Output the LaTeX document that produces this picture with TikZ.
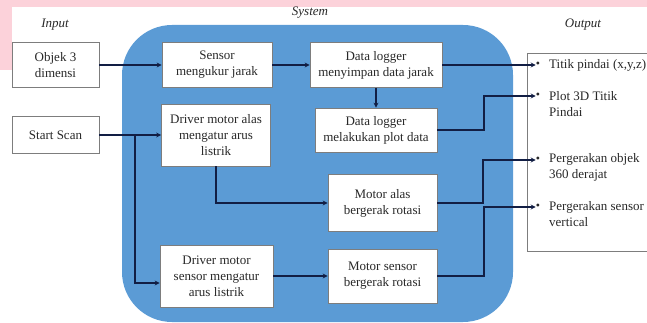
\documentclass[tikz,border=0pt]{standalone}
\usepackage{fontspec}
\setmainfont{Liberation Serif}
\usetikzlibrary{arrows.meta}
\definecolor{sysblue}{RGB}{91,155,213}
\definecolor{wirecol}{RGB}{18,30,68}
\definecolor{pinkband}{RGB}{252,210,218}
\definecolor{boxline}{RGB}{125,125,125}
\definecolor{txt}{RGB}{40,40,40}
\tikzset{
  blk/.style={rectangle,draw=boxline,fill=white,line width=.7pt,align=center,inner sep=1pt,text=txt,font=\fontsize{13}{16}\selectfont},
  sysbox/.style={rectangle,fill=sysblue,rounded corners=50pt,inner sep=0pt},
  outbox/.style={rectangle,draw=boxline,fill=white,line width=.7pt,inner sep=0pt},
  bul/.style={inner sep=0pt,text=txt,font=\fontsize{12}{12}\selectfont},
  item/.style={inner sep=0pt,align=left,text=txt,font=\fontsize{13}{16}\selectfont},
  lab/.style={text=txt,font=\fontsize{13}{16}\selectfont\itshape},
  wire/.style={line width=2pt,wirecol,-{Stealth[length=5pt,width=5pt]}}
}
\begin{document}
\begin{tikzpicture}[x=1pt,y=-1pt]
  \useasboundingbox (0,0) rectangle (647,323);
  \fill[pinkband] (0,0) rectangle (647,7);
  \fill[pinkband] (0,0) rectangle (12,70);
  % system container
  \node[sysbox,minimum width=391pt,minimum height=297pt] (sys) at (317.5,173.5) {};
  \node[lab] (inlab) at (55,25) {Input};
  \node[lab] (syslab) at (310,13) {System};
  \node[lab] (outlab) at (583,25) {Output};
  % input
  \node[blk,minimum width=87pt,minimum height=45pt] (obj) at (55.5,65) {Objek 3\\dimensi};
  \node[blk,minimum width=87pt,minimum height=37pt] (start) at (55.5,135) {Start Scan};
  % system blocks
  \node[blk,minimum width=110pt,minimum height=45pt] (sens) at (217,65) {Sensor\\mengukur jarak};
  \node[blk,minimum width=132pt,minimum height=45pt] (dl1) at (376,65) {Data logger\\menyimpan data jarak};
  \node[blk,minimum width=122pt,minimum height=44pt] (dl2) at (376,130) {Data logger\\melakukan plot data};
  \node[blk,minimum width=109pt,minimum height=62pt] (drva) at (216,135) {Driver motor alas\\mengatur arus\\listrik};
  \node[blk,minimum width=109pt,minimum height=57pt] (mota) at (382.5,203) {Motor alas\\bergerak rotasi};
  \node[blk,minimum width=113pt,minimum height=62pt] (drvs) at (216.5,276) {Driver motor\\sensor mengatur\\arus listrik};
  \node[blk,minimum width=109pt,minimum height=54pt] (mots) at (382.5,276) {Motor sensor\\bergerak rotasi};
  % output
  \node[outbox,minimum width=133pt,minimum height=198pt] (out) at (593.5,152) {};
  \node[bul] (b1) at (538,65) {\textbullet};
  \node[bul] (b2) at (538,96) {\textbullet};
  \node[bul] (b3) at (538,160) {\textbullet};
  \node[bul] (b4) at (538,207) {\textbullet};
  \node[item,anchor=west] (t1) at (549,65) {Titik pindai (x,y,z)};
  \node[item,anchor=west] (t2) at (549,104) {Plot 3D Titik\\Pindai};
  \node[item,anchor=west] (t3) at (549,167.5) {Pergerakan objek\\360 derajat};
  \node[item,anchor=west] (t4) at (549,214.5) {Pergerakan sensor\\vertical};
  % connectors
  \draw[wire] (obj) -- (sens);
  \draw[wire] (sens) -- (dl1);
  \draw[wire] (dl1) -- (b1);
  \draw[wire] (dl1) -- (dl2);
  \draw[wire] (dl2.east) -- ++(47,0) |- (b2.west);
  \draw[wire] (start) -- (drva);
  \draw[wire] ([xshift=36pt]start.east) |- ([yshift=-7pt]drvs.west);
  \draw[wire] (drva.south) |- (mota.west);
  \draw[wire] (drvs.east) -- (drvs.east -| mots.west);
  \draw[wire] (mota.east) -- ++(46,0) |- (b3.west);
  \draw[wire] (mots.east) -- ++(47,0) |- (b4.west);
\end{tikzpicture}
\end{document}
